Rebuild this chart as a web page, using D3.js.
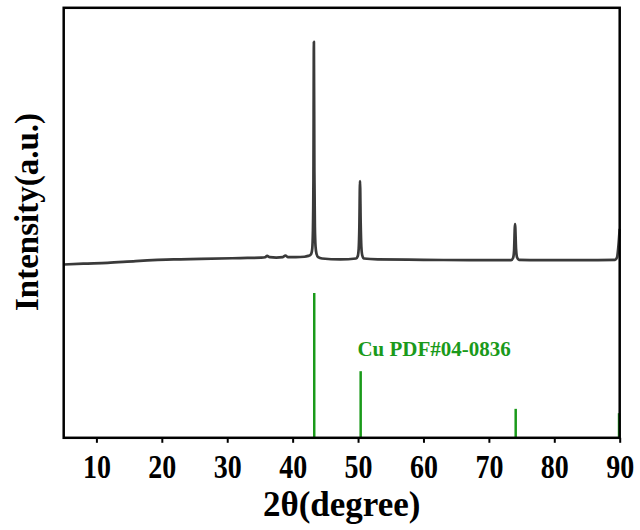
<!DOCTYPE html>
<html>
<head>
<meta charset="utf-8">
<script src="https://cdn.jsdelivr.net/npm/d3@7"></script>
<style>
  body { margin: 0; background: #fff; }
  text { font-family: "Liberation Serif", "Times New Roman", serif; font-weight: bold; }
</style>
</head>
<body>
<div id="chart"></div>
<script>
// XRD pattern (2theta, intensity in a.u.)
const twoTheta = [5, 8, 11.7, 16, 21.8, 26, 32, 35.2, 35.8, 36.1, 36.5, 37.5, 38.5, 38.9, 39.3, 40.5, 41.8, 42.4,
  42.6, 42.85, 43.0, 43.1, 43.18, 43.25, 43.32, 43.4, 43.5, 43.65, 43.9, 44.5, 47.3,
  49.7, 49.95, 50.1, 50.2, 50.3, 50.4, 50.5, 50.65, 50.9, 53, 60, 67,
  73.4, 73.7, 73.85, 74.0, 74.15, 74.3, 74.6, 78, 84, 89.3, 89.6, 89.8, 90];
const intensity = [403, 405, 407, 411, 415, 416, 418, 419, 420, 423, 420, 419, 420, 424, 420, 420, 421, 423,
  424, 428, 440, 480, 600, 921, 620, 490, 445, 428, 420, 417, 415,
  417, 422, 440, 490, 597, 500, 445, 424, 417, 415, 414, 413,
  413, 418, 435, 497, 440, 420, 414, 413, 413, 414, 420, 445, 486];

// Cu reference lines, PDF#04-0836
const refPos = [43.3, 50.4, 74.1, 89.9];
const refInt = [100, 46, 20, 17];
const refLabel = "Cu PDF#04-0836";

const xTicks = [10, 20, 30, 40, 50, 60, 70, 80, 90];

const margin = { top: 7.8, right: 20.3, bottom: 92.2, left: 63.7 },
    width = 640 - margin.left - margin.right,
    height = 530 - margin.top - margin.bottom;

const svg = d3.select("#chart")
    .append("svg")
    .attr("width", 640)
    .attr("height", 530)
    .append("g")
    .attr("transform", `translate(${margin.left},${margin.top})`);

const x = d3.scaleLinear().domain([5, 90]).range([0, width]);
const y = d3.scaleLinear().domain([0, 1000]).range([height, 0]);
// sticks use their own relative scale
const yRef = d3.scaleLinear().domain([0, 100]).range([height, height - 144.8]);

const green = "#1a9a1a";

// reference sticks
svg.append("g")
    .selectAll("line")
    .data(refPos.map((p, i) => ({ p: p, v: refInt[i] })))
    .enter().append("line")
    .attr("x1", d => x(d.p))
    .attr("x2", d => x(d.p))
    .attr("y1", yRef(0))
    .attr("y2", d => yRef(d.v))
    .style("stroke", green)
    .style("stroke-width", 2.5);

svg.append("text")
    .attr("x", x(49.9))
    .attr("y", 348)
    .style("font-size", "21px")
    .style("fill", green)
    .text(refLabel);

// measured pattern
const pts = twoTheta.map((t, i) => [t, intensity[i]]);
svg.append("path")
    .datum(pts)
    .attr("fill", "none")
    .attr("stroke", "#3a3a3a")
    .attr("stroke-width", 2.7)
    .attr("stroke-linejoin", "round")
    .attr("d", d3.line().curve(d3.curveMonotoneX).x(d => x(d[0])).y(d => y(d[1])));

// x axis
const xAxis = svg.append("g")
    .attr("transform", `translate(0,${height})`)
    .call(d3.axisBottom(x).tickValues(xTicks).tickSize(5).tickSizeOuter(0));
xAxis.select(".domain").remove();
xAxis.selectAll("line").style("stroke", "#000").style("stroke-width", 2);
xAxis.selectAll("text")
    .attr("y", null).attr("dy", null)
    .attr("transform", "translate(0,40) scale(1,1.2)")
    .style("font-size", "28px").style("fill", "#000");

// frame
svg.append("rect")
    .attr("x", 0).attr("y", 0)
    .attr("width", width).attr("height", height)
    .attr("fill", "none")
    .attr("stroke", "#000")
    .attr("stroke-width", 2.5);

// axis titles
svg.append("text")
    .attr("x", width / 2)
    .attr("y", 516 - margin.top)
    .attr("text-anchor", "middle")
    .style("font-size", "35px")
    .text("2θ(degree)");

svg.append("text")
    .attr("transform", `translate(${38 - margin.left},${212 - margin.top}) rotate(-90)`)
    .attr("text-anchor", "middle")
    .style("font-size", "33px")
    .text("Intensity(a.u.)");
</script>
</body>
</html>
